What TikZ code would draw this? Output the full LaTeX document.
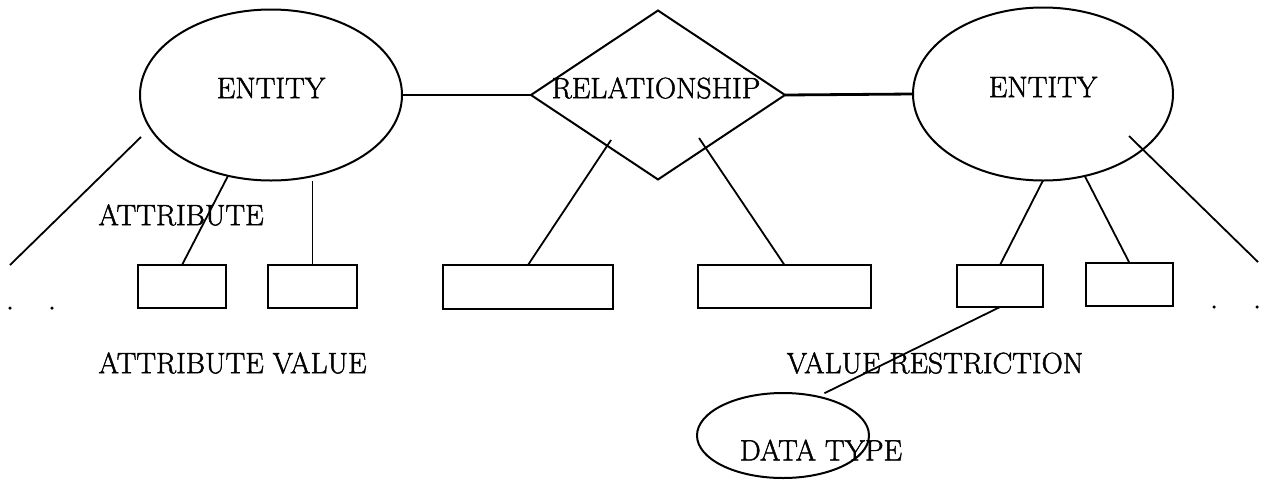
\documentclass[tikz,border=0pt]{standalone}
\usepackage{fontspec}
\newfontfamily\erfont[FakeBold=1.5]{Latin Modern Roman}
\usetikzlibrary{shapes.geometric}
\begin{document}
\begin{tikzpicture}[x=1pt,y=-1pt,
  every node/.style={inner sep=0pt,outer sep=0pt},
  txt/.style={font=\erfont\fontsize{29.5}{32}\selectfont},
  ent/.style={draw,ellipse,line width=2pt},
  rel/.style={draw,diamond,line width=2pt},
  valbox/.style={draw,rectangle,line width=2pt},
  conn/.style={line width=1.8pt},
  link/.style={line width=2.8pt},
  dot/.style={circle,fill,minimum size=3.5pt}]
\useasboundingbox (0,0) rectangle (1272,483);
% entities and relationship
\node[ent,minimum width=262pt,minimum height=171pt,
  label={[txt,yshift=7pt]center:ENTITY}] (e1) at (271,95) {};
\node[ent,minimum width=260pt,minimum height=173pt,
  label={[txt,yshift=7pt]center:ENTITY}] (e2) at (1043,94) {};
\node[rel,minimum width=254pt,minimum height=169pt,
  label={[txt,xshift=-2pt,yshift=7pt]center:RELATIONSHIP}] (r) at (658,95) {};
\node[ent,minimum width=172pt,minimum height=85pt,
  label={[txt,xshift=38pt,yshift=-14.5pt]center:DATA TYPE}] (dt) at (783,435.5) {};
% value boxes
\node[valbox,minimum width=88pt,minimum height=43pt] (b1) at (182,286.5) {};
\node[valbox,minimum width=89pt,minimum height=43pt] (b2) at (312.5,286.5) {};
\node[valbox,minimum width=170pt,minimum height=44pt] (b3) at (528,287) {};
\node[valbox,minimum width=173pt,minimum height=43pt] (b4) at (784.5,286.5) {};
\node[valbox,minimum width=86pt,minimum height=42pt] (b5) at (1000,286) {};
\node[valbox,minimum width=87pt,minimum height=43pt] (b6) at (1129.5,284.5) {};
% texts
\node[txt] (attr) at (181,215) {ATTRIBUTE};
\node[txt] (attrval) at (232.5,363) {ATTRIBUTE VALUE};
\node[txt] (valres) at (935,363) {VALUE RESTRICTION};
% dots
\node[dot] (d1) at (10,308) {};
\node[dot] (d2) at (52,308) {};
\node[dot] (d3) at (1214,307) {};
\node[dot] (d4) at (1257,307) {};
% free-end coordinates
\coordinate (la) at (141,137);
\coordinate (lb) at (10,265);
\coordinate (ra) at (1129,136);
\coordinate (rb) at (1258,262);
\coordinate (rl) at (611,140);
\coordinate (rr) at (699,138);
% connectors
\draw[link] (e1.east) -- (r.west);
\draw[link] (r.east) -- (e2.west);
\draw[conn] (la) -- (lb);
\draw[conn] (ra) -- (rb);
\draw[conn] (e1.-118) -- (b1.north);
\draw[conn] (b2.north) -- (b2.north |- e1.south);
\draw[conn] (rl) -- (b3.north);
\draw[conn] (rr) -- (b4.north);
\draw[conn] (e2.south) -- (b5.north);
\draw[conn] (e2.-63) -- (b6.north);
\draw[conn] (b5.south) -- ([yshift=5pt]dt.42);
\end{tikzpicture}
\end{document}
